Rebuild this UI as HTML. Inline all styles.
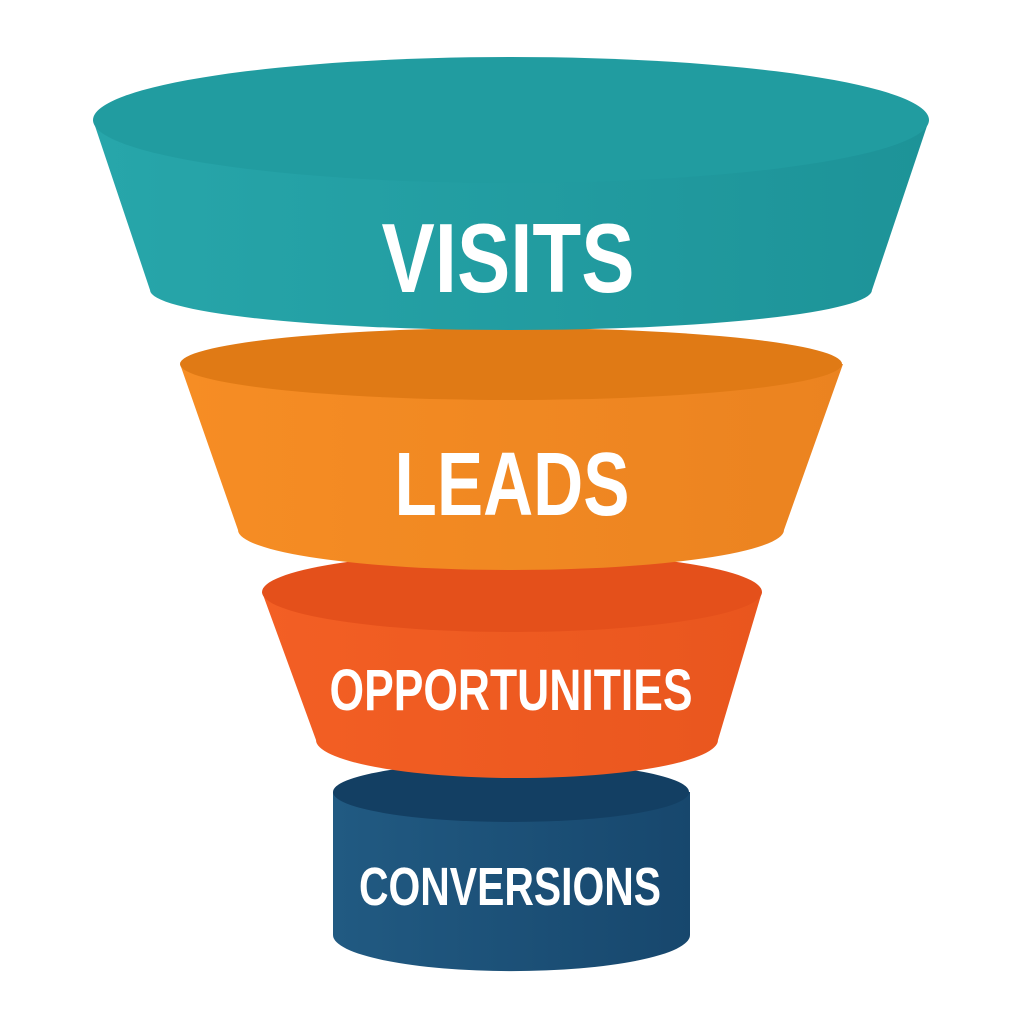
<!DOCTYPE html>
<html><head><meta charset="utf-8"><style>
html,body{margin:0;padding:0;background:#fff;width:1024px;height:1024px;overflow:hidden}
text{font-family:"Liberation Sans",sans-serif;font-weight:bold;fill:#fff}
</style></head><body>
<svg width="1024" height="1024" viewBox="0 0 1024 1024" xmlns="http://www.w3.org/2000/svg">
<defs>
<linearGradient id="gt" x1="0" x2="1"><stop offset="0" stop-color="#27a6aa"/><stop offset="1" stop-color="#1d9398"/></linearGradient>
<linearGradient id="go" x1="0" x2="1"><stop offset="0" stop-color="#f68d24"/><stop offset="1" stop-color="#eb8320"/></linearGradient>
<linearGradient id="gr" x1="0" x2="1"><stop offset="0" stop-color="#f35f24"/><stop offset="1" stop-color="#e9561e"/></linearGradient>
<linearGradient id="gn" x1="0" x2="1"><stop offset="0" stop-color="#215a82"/><stop offset="1" stop-color="#17476d"/></linearGradient>
</defs>
<!-- Conversions -->
<path d="M333 792 L333 935 A178 36 0 0 0 690 935 L690 792 Z" fill="url(#gn)"/>
<ellipse cx="511" cy="792" rx="178" ry="30" fill="#133f63"/>
<text x="510" y="905" font-size="54" textLength="302" lengthAdjust="spacingAndGlyphs" text-anchor="middle">CONVERSIONS</text>
<!-- Opportunities -->
<path d="M262 592 L316 740 A201 38 0 0 0 718 740 L762 592 Z" fill="url(#gr)"/>
<ellipse cx="512" cy="592" rx="250" ry="40" fill="#e4501b"/>
<text x="511" y="710" font-size="58" textLength="363" lengthAdjust="spacingAndGlyphs" text-anchor="middle">OPPORTUNITIES</text>
<!-- Leads -->
<path d="M180 364 L238 530 A273 40 0 0 0 784 530 L843 364 Z" fill="url(#go)"/>
<ellipse cx="511" cy="364" rx="331" ry="36" fill="#e07a15"/>
<text x="512" y="515" font-size="90" textLength="235" lengthAdjust="spacingAndGlyphs" text-anchor="middle">LEADS</text>
<!-- Visits -->
<path d="M93 120 L150 290 A361 40 0 0 0 872 290 L929 120 Z" fill="url(#gt)"/>
<ellipse cx="511" cy="120" rx="418" ry="63" fill="#219ca0"/>
<text x="508" y="292" font-size="98" textLength="253" lengthAdjust="spacingAndGlyphs" text-anchor="middle">VISITS</text>
</svg>
</body></html>
